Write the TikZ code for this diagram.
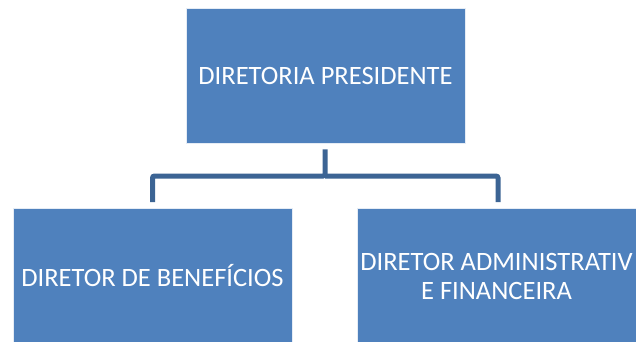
\documentclass[tikz,border=0pt]{standalone}
\usepackage{fontspec}
\setmainfont{Carlito}
\definecolor{boxblue}{HTML}{4F81BD}
\definecolor{lineblue}{HTML}{3C6494}
\begin{document}
\begin{tikzpicture}[x=1pt,y=-1pt,
  orgbox/.style={fill=boxblue,draw=white!85!boxblue,line width=0.8pt,minimum width=279pt,minimum height=135pt,
    text=white,font=\fontsize{26.5}{29}\selectfont,align=center,inner sep=0pt},
  conn/.style={draw=lineblue,line width=5pt,rounded corners=2pt}]
\useasboundingbox (0,0) rectangle (636,342);
\clip (0,0) rectangle (636,342);
\node[orgbox] (top) at (325.5,75.5) {DIRETORIA PRESIDENTE};
\node[orgbox] (left) at (152.5,276) {DIRETOR DE BENEFÍCIOS};
\node[orgbox] (right) at (496.5,276) {DIRETOR ADMINISTRATIV\\E FINANCEIRA};
\coordinate (mid) at (325,176);
\draw[conn] ([yshift=-6pt]top.south -| mid) -- (mid) -| ([yshift=6pt]left.north);
\draw[conn] (mid) -| ([xshift=1.5pt,yshift=6pt]right.north);
\end{tikzpicture}
\end{document}
